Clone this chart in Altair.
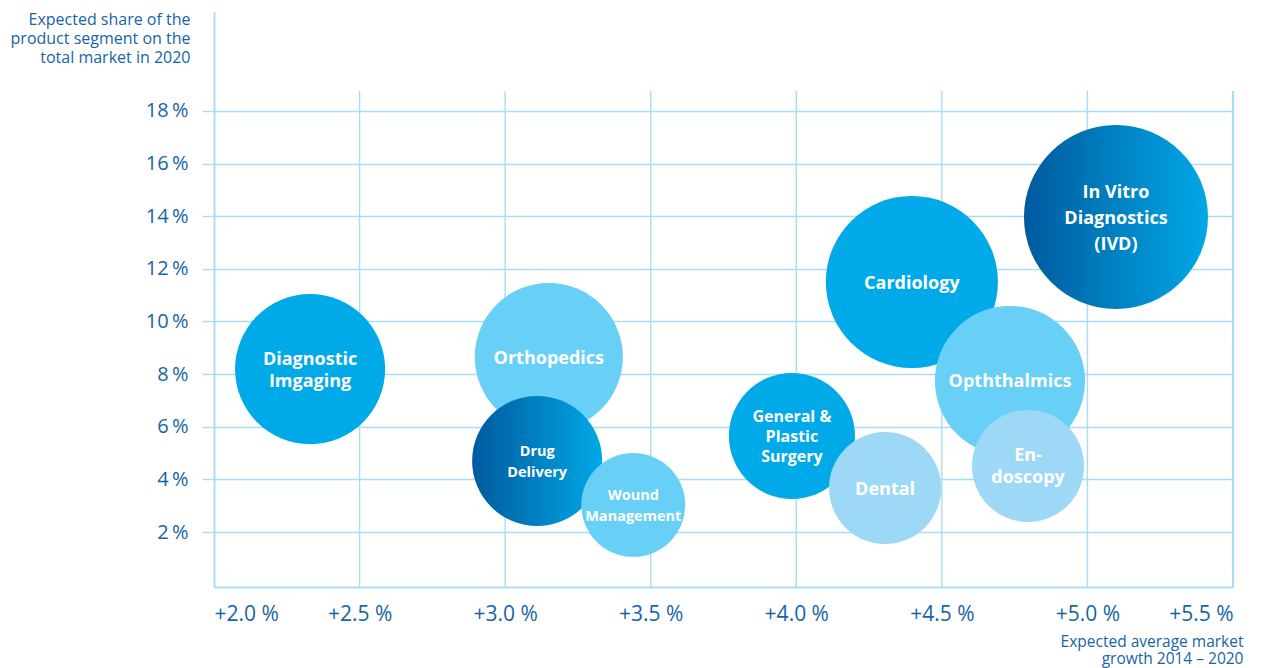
import altair as alt
import pandas as pd

# ---- data ----
segments = ["Diagnostic\nImgaging", "Orthopedics", "Drug\nDelivery", "Wound\nManagement",
            "General &\nPlastic\nSurgery", "Dental", "Cardiology", "Opththalmics",
            "En-\ndoscopy", "In Vitro\nDiagnostics\n(IVD)"]
growth = [2.33, 3.15, 3.11, 3.44, 3.985, 4.305, 4.397, 4.734, 4.796, 5.098]   # % p.a.
share = [8.19, 8.65, 4.70, 3.03, 5.65, 3.67, 11.50, 7.74, 4.51, 13.97]        # % in 2020
volume = [56.3, 54.8, 42.3, 27.0, 39.7, 31.4, 74.0, 56.3, 31.4, 84.6]         # relative bubble size
tone = ["medium", "light", "dark", "light", "medium", "pale", "medium", "light", "pale", "dark"]
label_group = ["big", "big", "small", "small", "mid", "big", "big", "big", "big", "ivd"]

x_ticks = [2.0, 2.5, 3.0, 3.5, 4.0, 4.5, 5.0, 5.5]
y_ticks = [2, 4, 6, 8, 10, 12, 14, 16, 18]
grid_x = [2.5, 3.0, 3.5, 4.0, 4.5, 5.0]

df = pd.DataFrame({"segment": segments, "growth": growth, "share": share,
                   "volume": volume, "tone": tone, "grp": label_group})
df["lines"] = df["segment"].str.count("\n") + 1
grid_df = pd.DataFrame({"g": grid_x})
edge_df = pd.DataFrame({"g": [5.5]})

BLUE_TEXT = "#1565a7"
GRID = "#a9ddf5"
FONT = "Open Sans"

Y_MIN, Y_MAX, GRID_TOP = -0.09, 21.76, 18.76

xscale = alt.Scale(domain=[2.0, 5.5], nice=False, zero=False)
yscale = alt.Scale(domain=[Y_MIN, Y_MAX], nice=False, zero=False)

xaxis = alt.Axis(values=x_ticks, labelExpr="'+' + format(datum.value, '.1f') + ' %'",
                 grid=False, ticks=False, domainColor=GRID, domainWidth=2,
                 labelFont=FONT, labelFontSize=21, labelColor=BLUE_TEXT, labelPadding=16,
                 title=["Expected average market", "growth 2014 \u2013 2020"],
                 titleFont=FONT, titleFontSize=15.5, titleFontWeight="normal", titleColor=BLUE_TEXT,
                 titleAlign="right", titleAnchor="end", titleX=1029, titleY=59,
                 titleBaseline="alphabetic", titleLineHeight=17)
yaxis = alt.Axis(values=y_ticks, labelExpr="format(datum.value, 'd') + '\u2009%'",
                 grid=True, gridColor=GRID, gridWidth=1.4, ticks=True, tickSize=12,
                 tickColor=GRID, tickWidth=1.4, domainColor=GRID, domainWidth=2,
                 labelFont=FONT, labelFontSize=20, labelColor=BLUE_TEXT, labelPadding=14,
                 title=["Expected share of the", "product segment on the", "total market in 2020"],
                 titleFont=FONT, titleFontSize=16, titleFontWeight="normal", titleColor=BLUE_TEXT,
                 titleAngle=0, titleAlign="right", titleBaseline="top", titleX=-24, titleY=-1,
                 titleLineHeight=19)

vgrid = alt.Chart(grid_df).mark_rule(color=GRID, strokeWidth=1.4).encode(
    x=alt.X("g:Q", scale=xscale, axis=xaxis),
    y=alt.Y("y0:Q", scale=yscale, axis=yaxis),
    y2="y1:Q",
).transform_calculate(y0=str(Y_MIN), y1=str(GRID_TOP))

edge = alt.Chart(edge_df).mark_rule(color=GRID, strokeWidth=2.2).encode(
    x=alt.X("g:Q", scale=xscale),
    y=alt.Y("y0:Q", scale=yscale),
    y2="y1:Q",
).transform_calculate(y0=str(Y_MIN), y1=str(GRID_TOP))

dark_gradient = {
    "gradient": "linear", "x1": 0, "y1": 0, "x2": 1, "y2": 0,
    "stops": [{"offset": 0, "color": "#005a9e"}, {"offset": 1, "color": "#00a8e6"}],
}

bubbles = alt.Chart(df).mark_circle(opacity=1, strokeWidth=0).encode(
    x=alt.X("growth:Q", scale=xscale),
    y=alt.Y("share:Q", scale=yscale),
    size=alt.Size("volume:Q", scale=alt.Scale(domain=[0, 84.6], range=[0, 33856], zero=True), legend=None),
    fill=alt.condition(
        "datum.tone == 'dark'",
        alt.value(dark_gradient),
        alt.Fill("tone:N", scale=alt.Scale(domain=["medium", "light", "pale"],
                                           range=["#00aae9", "#68cff6", "#9dd9f6"]), legend=None),
    ),
)

def labels(group, size, lh, nlines):
    return alt.Chart(df).transform_filter(
        f"datum.grp == '{group}' && datum.lines == {nlines}"
    ).mark_text(
        font=FONT, fontWeight="bold", fontSize=size, color="white",
        lineBreak="\n", lineHeight=lh, align="center", baseline="middle",
        dy=-(nlines - 1) * lh / 2 + 1.5,
    ).encode(
        x=alt.X("growth:Q", scale=xscale),
        y=alt.Y("share:Q", scale=yscale),
        text="segment:N",
    )

chart = alt.layer(
    vgrid, edge, bubbles,
    labels("big", 18, 23, 1), labels("big", 18, 22, 2), labels("ivd", 18, 26, 3),
    labels("mid", 16, 20, 3), labels("small", 14.5, 21, 2),
).properties(
    width=1019, height=575,
    padding={"left": 206, "top": 4, "right": 30, "bottom": 82},
    autosize=alt.AutoSizeParams(type="none"),
    background="white",
).configure_view(stroke=None)

chart.save("out.html", embed_options={"renderer": "svg", "actions": False})
